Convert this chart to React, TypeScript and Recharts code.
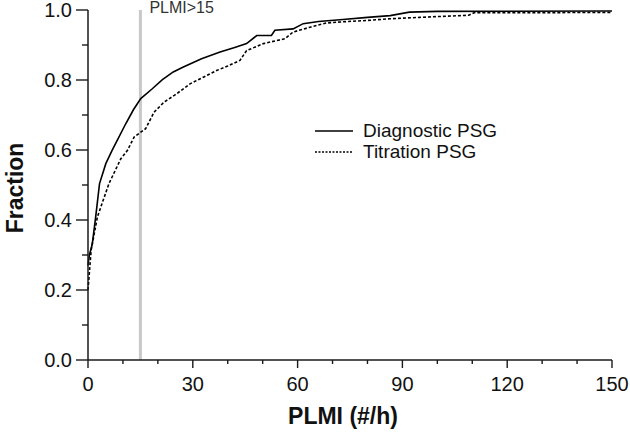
import { LineChart, Line, XAxis, YAxis, ReferenceLine, Legend, Label } from "recharts";

// PLMI values (#/h) and cumulative fraction
const diagnosticX = [0, 0.4, 1.2, 2.2, 3.3, 5.1, 6.9, 8.4, 10.8, 13, 15.1, 18.4, 21.3, 24.4, 27.3, 32.5, 37.8, 42, 45.4, 48.3, 52.5, 53.5, 58.7, 61.6, 66, 73, 80, 86.5, 92, 100, 150];
const diagnosticY = [0.27, 0.3, 0.33, 0.409, 0.504, 0.561, 0.599, 0.628, 0.675, 0.715, 0.747, 0.775, 0.801, 0.823, 0.837, 0.861, 0.88, 0.893, 0.904, 0.927, 0.927, 0.942, 0.946, 0.961, 0.967, 0.973, 0.979, 0.984, 0.994, 0.996, 0.997];

const titrationX = [0, 0.9, 2.7, 6, 9.4, 11.3, 13.2, 16.5, 18.9, 21.8, 25, 29.2, 33, 36.8, 40, 43.5, 45.4, 50.2, 56.4, 58.7, 63.6, 68.3, 74, 79.8, 86.5, 95, 109, 110.5, 150];
const titrationY = [0.2, 0.314, 0.409, 0.504, 0.575, 0.599, 0.637, 0.661, 0.708, 0.737, 0.758, 0.789, 0.808, 0.827, 0.84, 0.856, 0.884, 0.904, 0.918, 0.937, 0.951, 0.963, 0.967, 0.97, 0.975, 0.979, 0.985, 0.992, 0.993];

const xTicks = [0, 10, 20, 30, 40, 50, 60, 70, 80, 90, 100, 110, 120, 130, 140, 150];
const xLabeled = [0, 30, 60, 90, 120, 150];
const yTicks = [0, 0.1, 0.2, 0.3, 0.4, 0.5, 0.6, 0.7, 0.8, 0.9, 1.0];
const yLabeled = [0, 0.2, 0.4, 0.6, 0.8, 1.0];

const plmiCutoff = 15;

const diagnostic = diagnosticX.map((x, i) => ({ x, y: diagnosticY[i] }));
const titration = titrationX.map((x, i) => ({ x, y: titrationY[i] }));

const FONT = "'Liberation Sans', Arial, sans-serif";
const AXIS = "#1a1a1a";

const series = [
  { name: "Diagnostic PSG", dash: undefined },
  { name: "Titration PSG", dash: "2 1.5" },
];

function XTick(props: any) {
  const { x, y, payload } = props;
  const major = xLabeled.includes(payload.value);
  return (
    <g>
      <line x1={x} y1={y} x2={x} y2={y + (major ? 8 : 4)} stroke={AXIS} strokeWidth={1.4} />
      {major && (
        <text x={x} y={y + 31} textAnchor="middle" fontSize={20} fontFamily={FONT} fill="#111">
          {payload.value}
        </text>
      )}
    </g>
  );
}

function YTick(props: any) {
  const { x, y, payload } = props;
  const v = Math.round(payload.value * 10) / 10;
  const major = yLabeled.some((t) => Math.abs(t - v) < 1e-6);
  return (
    <g>
      <line x1={x} y1={y} x2={x - (major ? 12 : 6)} y2={y} stroke={AXIS} strokeWidth={1.4} />
      {major && (
        <text x={x - 16} y={y + 7} textAnchor="end" fontSize={20} fontFamily={FONT} fill="#111">
          {v.toFixed(1)}
        </text>
      )}
    </g>
  );
}

function LegendBox() {
  return (
    <div style={{ fontFamily: FONT, fontSize: 19, color: "#111" }}>
      {series.map((s) => (
        <div key={s.name} style={{ display: "flex", alignItems: "center", height: 21 }}>
          <svg width={38} height={4} style={{ display: "block" }}>
            <line x1={0} y1={2} x2={38} y2={2} stroke="#000" strokeWidth={1.4} strokeDasharray={s.dash} />
          </svg>
          <span style={{ marginLeft: 10, lineHeight: "21px", whiteSpace: "nowrap" }}>{s.name}</span>
        </div>
      ))}
    </div>
  );
}

export default function App() {
  return (
    <div style={{ position: "absolute", left: 0, top: 0 }}>
      <LineChart width={630} height={435} margin={{ top: 10, right: 18, left: 0, bottom: 0 }}>
        <XAxis
          type="number"
          dataKey="x"
          domain={[0, 150]}
          ticks={xTicks}
          interval={0}
          tick={<XTick />}
          tickLine={false}
          tickSize={0}
          tickMargin={0}
          height={75}
          stroke={AXIS}
          strokeWidth={1.5}
        >
          <Label
            content={() => (
              <text x={343} y={424} textAnchor="middle" fontSize={23} fontWeight="bold" fontFamily={FONT} fill="#111">
                PLMI (#/h)
              </text>
            )}
          />
        </XAxis>
        <YAxis
          type="number"
          dataKey="y"
          domain={[0, 1]}
          ticks={yTicks}
          interval={0}
          tick={<YTick />}
          tickLine={false}
          tickSize={0}
          tickMargin={0}
          width={88}
          stroke={AXIS}
          strokeWidth={1.5}
        >
          <Label
            content={() => (
              <text
                x={23}
                y={188}
                transform="rotate(-90 23 188)"
                textAnchor="middle"
                fontSize={23}
                fontWeight="bold"
                fontFamily={FONT}
                fill="#111"
              >
                Fraction
              </text>
            )}
          />
        </YAxis>
        <ReferenceLine
          x={plmiCutoff}
          stroke="#c8c8c8"
          strokeWidth={3}
          label={(p: any) => (
            <text x={p.viewBox.x + 9} y={13} fontSize={16} fontFamily={FONT} fill="#333">
              PLMI&gt;15
            </text>
          )}
        />
        <Line
          data={diagnostic}
          dataKey="y"
          name="Diagnostic PSG"
          type="linear"
          stroke="#000"
          strokeWidth={1.6}
          dot={false}
          isAnimationActive={false}
        />
        <Line
          data={titration}
          dataKey="y"
          name="Titration PSG"
          type="linear"
          stroke="#000"
          strokeWidth={1.6}
          strokeDasharray="3 2"
          dot={false}
          isAnimationActive={false}
        />
        <Legend
          layout="horizontal"
          verticalAlign="middle"
          align="center"
          content={<LegendBox />}
          wrapperStyle={{ left: 315, top: 120, width: "auto", bottom: "auto" }}
        />
      </LineChart>
    </div>
  );
}
